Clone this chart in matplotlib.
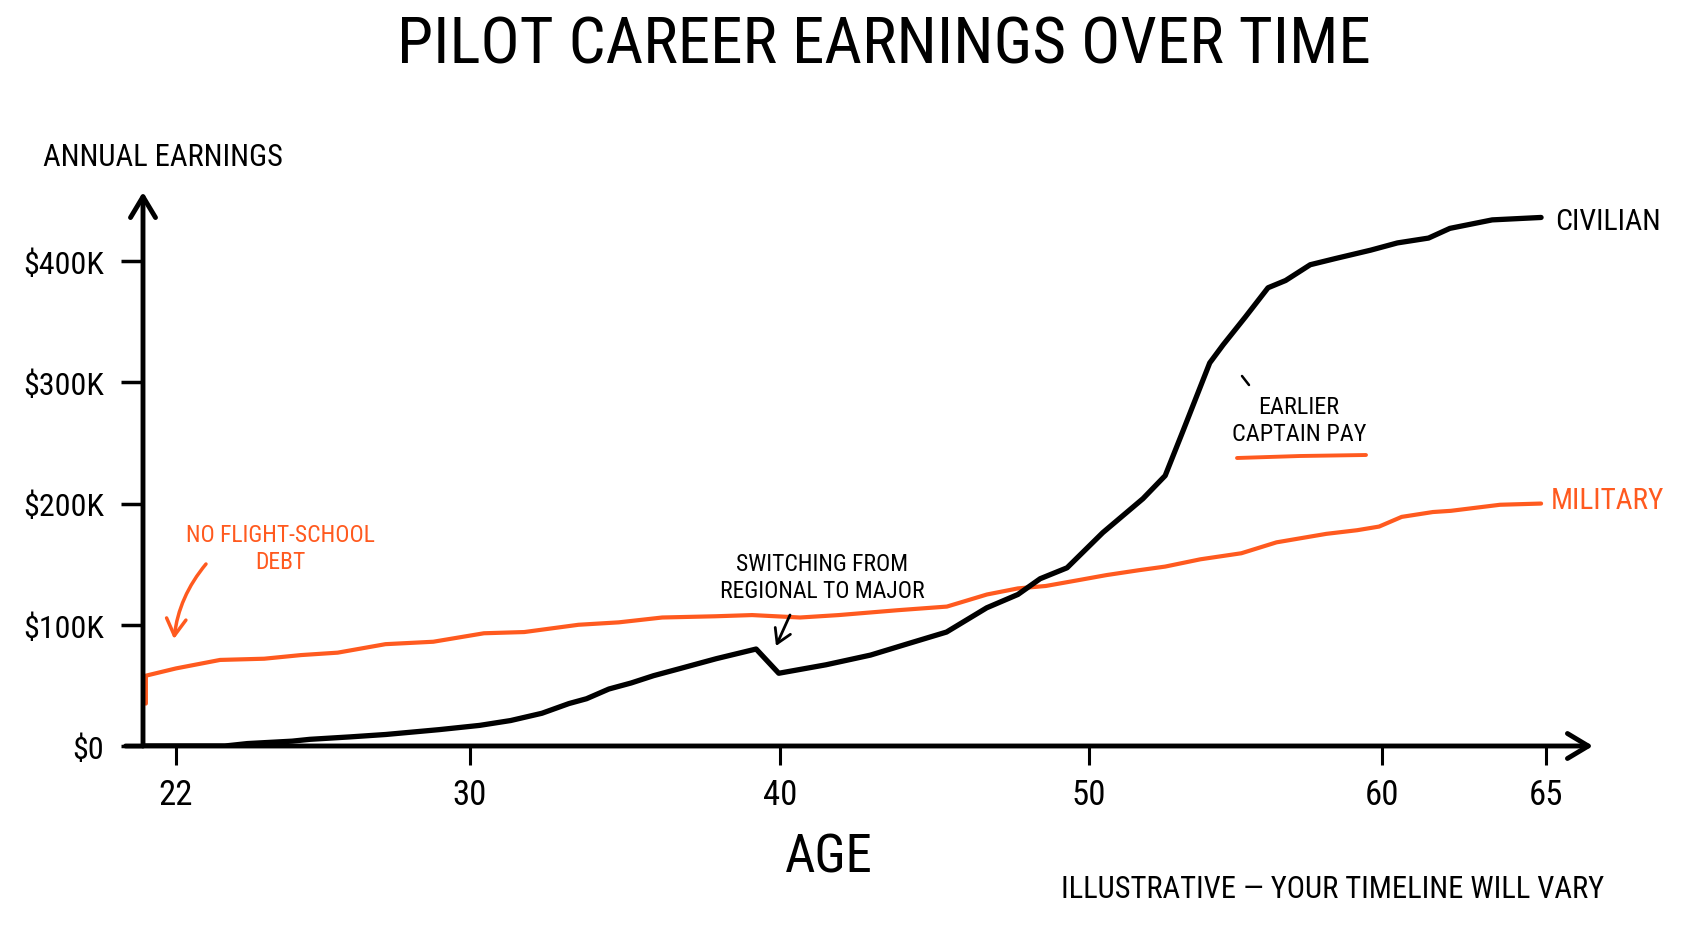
import matplotlib
matplotlib.use("Agg")
import numpy as np
import matplotlib.pyplot as plt
from matplotlib import font_manager
from matplotlib.lines import Line2D

# ages in years, earnings in thousands of dollars
military_age = [21.18, 21.18, 22.0, 23.2, 24.4, 25.4, 26.4, 27.7, 29.0, 30.45,
                31.75, 33.5, 34.8, 36.2, 37.9, 39.1, 40.65, 41.9, 43.8, 45.4,
                46.7, 47.7, 48.6, 49.7, 50.6, 51.7, 52.6, 53.8, 55.2, 56.4,
                58.1, 59.15, 59.9, 60.6, 61.55, 62.1, 63.6, 64.85]
military_k = [35, 58, 64, 71, 72, 75, 77, 84, 86, 93,
              94, 100, 102, 106, 107, 108, 106, 108, 112, 115,
              125, 130, 132, 137, 141, 145, 148, 154, 159, 168,
              175, 178, 181, 189, 193, 194, 199, 200]

civilian_age = [21.1, 23.33, 23.94, 25.16, 25.64, 26.73, 27.71, 29.16, 30.31, 31.31,
                32.32, 33.19, 33.76, 34.48, 35.2, 35.92, 36.79, 37.94, 39.23, 39.96,
                41.49, 42.93, 44.09, 45.39, 46.69, 47.7, 48.42, 49.29, 50.47, 51.84,
                52.6, 53.21, 54.12, 54.58, 55.34, 56.11, 56.71, 57.55, 58.39, 59.61,
                60.47, 61.42, 62.07, 63.36, 64.85]
civilian_k = [0, 0, 2, 4, 5.5, 7.5, 9.5, 13.5, 17, 21,
              27, 35, 39, 47, 52, 58, 64, 72, 80, 60,
              67, 75, 84, 94, 114, 125, 138, 147, 176, 204,
              223, 260, 316, 331, 354, 378, 384, 397, 402, 409,
              415, 419, 427, 434, 436]

age_ticks = [22, 30, 40, 50, 60, 65]
earn_ticks = [0, 100, 200, 300, 400]
earn_labels = [r"\$0", r"\$100K", r"\$200K", r"\$300K", r"\$400K"]

ORANGE = "#FF5A1F"
W, H = 1693, 929

# the hand-drawn age axis is not evenly spaced; these are where its ticks sit
axis_age = [20, 22, 30, 40, 50, 60, 65, 70]
axis_pos = [102.5, 176, 470, 780, 1089, 1382, 1546, 1710]

# pick a narrow sans if there is one, the sketch lettering is condensed
names = {f.name for f in font_manager.fontManager.ttflist}
hand = "DejaVu Sans"
for cand in ["Roboto Condensed", "Liberation Sans Narrow", "DejaVu Sans Condensed",
             "Open Sans Condensed"]:
    if cand in names:
        hand = cand
        break
plt.rcParams["font.family"] = [hand, "DejaVu Sans"]


def fx(px):
    return px / W


def fy(py):
    return 1 - py / H


def age_fwd(a):
    return np.interp(a, axis_age, axis_pos)


def age_inv(p):
    return np.interp(p, axis_pos, axis_age)


fig = plt.figure(figsize=(W / 100, H / 100), dpi=100)
ax = fig.add_axes([fx(143), fy(747), fx(1593) - fx(143), fy(193) - fy(747)])
ax.set_xscale("function", functions=(age_fwd, age_inv))
ax.set_xlim(age_inv(143), age_inv(1593))
ax.set_ylim(0, 457)
for s in ax.spines.values():
    s.set_visible(False)

ax.plot(military_age, military_k, color=ORANGE, lw=3.0,
        solid_capstyle="round", solid_joinstyle="round", zorder=2)
ax.plot(civilian_age, civilian_k, color="black", lw=3.8,
        solid_capstyle="round", solid_joinstyle="round", zorder=3)

# axes drawn as arrows
arrow = dict(arrowstyle="->,head_length=0.75,head_width=0.45", lw=3.5,
             color="black", mutation_scale=20, shrinkA=0, shrinkB=0)
ax.annotate("", xy=(1, 0), xytext=(-0.012, 0), xycoords="axes fraction",
            arrowprops=arrow, annotation_clip=False)
ax.annotate("", xy=(0, 1), xytext=(0, 0), xycoords="axes fraction",
            arrowprops=arrow, annotation_clip=False)

ax.set_xticks(age_ticks)
ax.set_xticklabels([str(a) for a in age_ticks])
ax.xaxis.set_minor_locator(matplotlib.ticker.NullLocator())
ax.set_yticks(earn_ticks)
ax.set_yticklabels(earn_labels)
ax.tick_params(axis="x", length=14, width=2.2, pad=9, labelsize=25)
ax.tick_params(axis="y", length=16, width=2.5, pad=12, labelsize=23)

fig.text(0.5221, fy(46), "PILOT CAREER EARNINGS OVER TIME", ha="center",
         va="center", fontsize=47)
fig.text(fx(43), fy(157), "ANNUAL EARNINGS", ha="left", va="center", fontsize=22)
fig.text(fx(829), fy(858), "AGE", ha="center", va="center", fontsize=38)
fig.text(fx(1604), fy(890), "ILLUSTRATIVE \u2014 YOUR TIMELINE WILL VARY",
         ha="right", va="center", fontsize=22)

# series labels at line ends
fig.text(fx(1555), fy(222), "CIVILIAN", ha="left", va="center", fontsize=21.5)
fig.text(fx(1551), fy(501), "MILITARY", ha="left", va="center", fontsize=21,
         color=ORANGE)

# notes
fig.text(fx(280), fy(549), "NO FLIGHT-SCHOOL\nDEBT", ha="center", va="center",
         fontsize=17, color=ORANGE, linespacing=1.25)
ax.annotate("", xy=(fx(174), fy(640)), xytext=(fx(206), fy(565)),
            xycoords="figure fraction",
            arrowprops=dict(arrowstyle="->,head_length=0.6,head_width=0.35",
                            lw=2.5, color=ORANGE, mutation_scale=20,
                            connectionstyle="arc3,rad=0.15",
                            shrinkA=0, shrinkB=0))

fig.text(fx(822), fy(578), "SWITCHING FROM\nREGIONAL TO MAJOR", ha="center",
         va="center", fontsize=17, linespacing=1.25)
ax.annotate("", xy=(fx(776), fy(647)), xytext=(fx(790), fy(616)),
            xycoords="figure fraction",
            arrowprops=dict(arrowstyle="->,head_length=0.5,head_width=0.3",
                            lw=2, color="black", mutation_scale=20,
                            shrinkA=0, shrinkB=0))

fig.text(fx(1299), fy(421), "EARLIER\nCAPTAIN PAY", ha="center", va="center",
         fontsize=17.5, linespacing=1.25)
fig.add_artist(Line2D([fx(1237), fx(1300), fx(1366)], [fy(459), fy(457), fy(456)],
                      color=ORANGE, lw=2.8, solid_capstyle="round"))
fig.add_artist(Line2D([fx(1242), fx(1249)], [fy(377), fy(386)],
                      color="black", lw=1.8, solid_capstyle="round"))

fig.savefig("out.png", dpi=100, facecolor="white")
